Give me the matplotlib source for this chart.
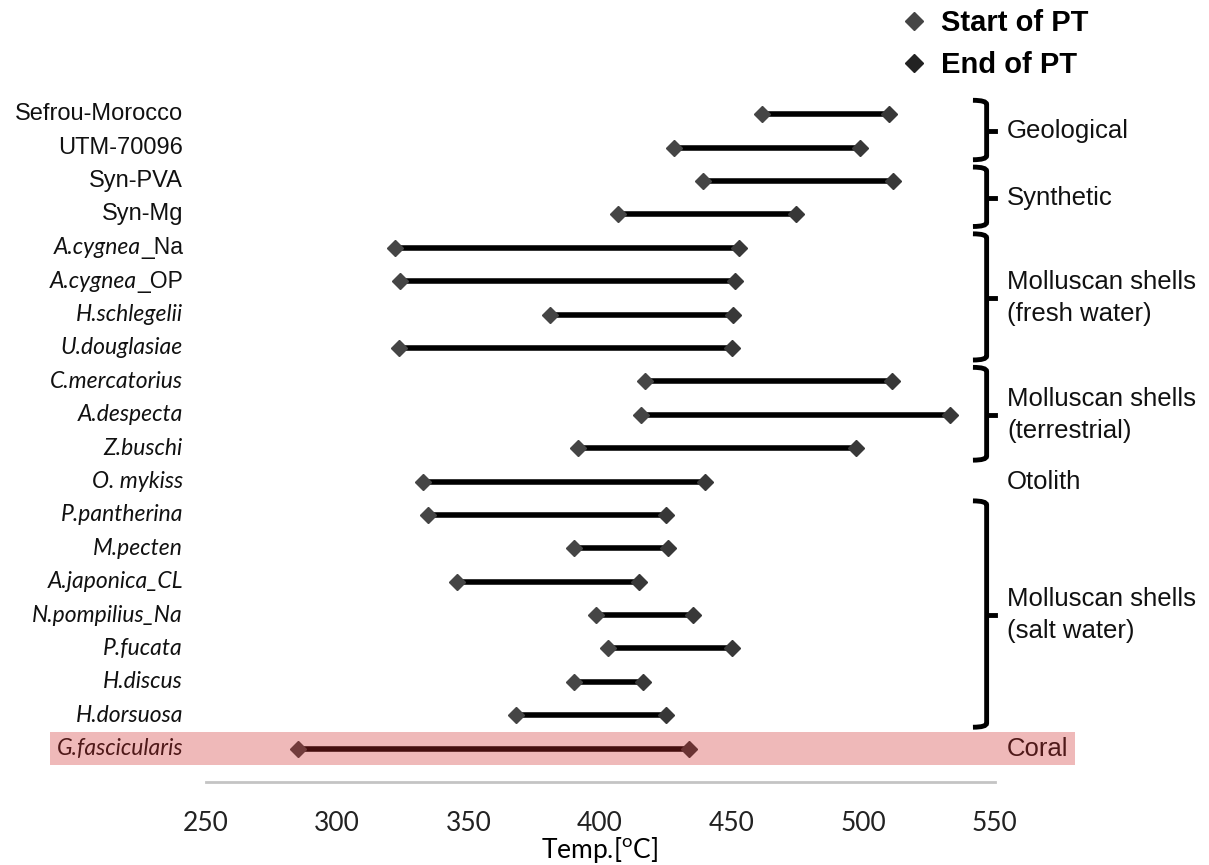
import matplotlib

matplotlib.use("Agg")

import matplotlib.pyplot as plt
from matplotlib.lines import Line2D
from matplotlib.patches import PathPatch, Rectangle
from matplotlib.path import Path

# samples, top to bottom
samples = [
    "Sefrou-Morocco", "UTM-70096", "Syn-PVA", "Syn-Mg",
    "A.cygnea_Na", "A.cygnea_OP", "H.schlegelii", "U.douglasiae",
    "C.mercatorius", "A.despecta", "Z.buschi", "O. mykiss",
    "P.pantherina", "M.pecten", "A.japonica_CL", "N.pompilius_Na",
    "P.fucata", "H.discus", "H.dorsuosa", "G.fascicularis",
]
# phase transition start / end temperature (deg C)
pt_start = [461.5, 428, 439, 407, 322, 324, 381, 323.5, 417, 415.5,
            391.5, 332.5, 334.5, 390, 345.5, 398.5, 403, 390, 368, 285]
pt_end = [510, 499, 511.5, 474.5, 453, 451.5, 450.5, 450, 511, 533,
          497.5, 440, 425, 426, 415, 435.5, 450, 416.5, 425, 434]

# non-italic samples, and parts of names written upright
upright = ["Sefrou-Morocco", "UTM-70096", "Syn-PVA", "Syn-Mg"]
upright_suffix = {"A.cygnea_Na": "_Na", "A.cygnea_OP": "_OP"}

# groups: (label, first row, last row, draw bracket)
groups = [
    ("Geological", 0, 1, True),
    ("Synthetic", 2, 3, True),
    ("Molluscan shells\n(fresh water)", 4, 7, True),
    ("Molluscan shells\n(terrestrial)", 8, 10, True),
    ("Otolith", 11, 11, False),
    ("Molluscan shells\n(salt water)", 12, 18, True),
    ("Coral", 19, 19, False),
]

xticks = [250, 300, 350, 400, 450, 500, 550]

SANS = ["Liberation Sans", "DejaVu Sans"]
ITAL = ["Lato", "DejaVu Sans"]

fig = plt.figure(figsize=(12.09, 8.65), dpi=100)
ax = fig.add_axes([0.170, 0.096, 0.6526, 0.80])

rows = list(range(len(samples)))
ax.hlines(rows, pt_start, pt_end, color="black", lw=4, zorder=2)
ax.plot(pt_start, rows, "D", color="#454545", ms=8.5, ls="none", zorder=3)
ax.plot(pt_end, rows, "D", color="#383838", ms=8.5, ls="none", zorder=3)

ax.set_xlim(250, 550)
ax.set_ylim(20, -0.73)
ax.set_xticks(xticks)
ax.set_xticklabels([str(t) for t in xticks], family=ITAL, fontsize=19, color="#222222")
ax.tick_params(axis="x", length=0, pad=21)
ax.set_yticks([])
for s in ["top", "left", "right"]:
    ax.spines[s].set_visible(False)
ax.spines["bottom"].set_color("#c4c4c4")
ax.spines["bottom"].set_linewidth(2)
ax.set_xlabel("Temp.[$^{\\mathregular{o}}$C]", family=ITAL, fontsize=19, labelpad=-1)

# sample labels
ytr = ax.get_yaxis_transform()
lab_x = -0.0285
for r, name in enumerate(samples):
    if name in upright:
        ax.text(lab_x, r, name, transform=ytr, ha="right", va="center",
                family=SANS, fontsize=17, color="#111111")
    elif name in upright_suffix:
        suf = upright_suffix[name]
        t = ax.text(lab_x, r, suf, transform=ytr, ha="right", va="center",
                    family=SANS, fontsize=16.5, color="#111111")
        ax.annotate(name[: -len(suf)], xy=(0, 0.5), xycoords=t, ha="right", va="center",
                    family=ITAL, style="italic", fontsize=16.5, color="#111111")
    else:
        ax.text(lab_x, r, name, transform=ytr, ha="right", va="center",
                family=ITAL, style="italic", fontsize=16.5, color="#111111")

# group brackets and labels
for label, r0, r1, bracket in groups:
    mid = (r0 + r1) / 2
    if bracket:
        top, bot = r0 - 0.42, r1 + 0.36
        xv, xh, xt = 547.0, 541.8, 550.3
        c = 0.12
        verts = [(xh, top), (xv, top), (xv, top + c), (xv, bot - c), (xv, bot), (xh, bot)]
        codes = [Path.MOVETO, Path.CURVE3, Path.CURVE3, Path.LINETO, Path.CURVE3, Path.CURVE3]
        ax.add_patch(PathPatch(Path(verts, codes), fill=False, lw=3.5, color="black",
                               clip_on=False, capstyle="butt"))
        ax.plot([xv, xt], [mid, mid], color="black", lw=3.5, clip_on=False)
    ax.text(554.8, mid, label, ha="left", va="center", family=SANS, fontsize=18.5,
            linespacing=1.4, color="#111111", clip_on=False)

# legend
handles = [
    Line2D([], [], marker="D", color="#454545", ls="none", ms=9),
    Line2D([], [], marker="D", color="#222222", ls="none", ms=9),
]
fig.legend(handles, ["Start of PT", "End of PT"], loc="upper left",
           bbox_to_anchor=(0.722, 1.02), frameon=False, handlelength=1.0,
           handletextpad=0.45, labelspacing=0.48,
           prop={"family": SANS, "weight": "bold", "size": 21})

# highlight band over the coral row
fig.add_artist(Rectangle((0.0414, 0.1156), 0.8478, 0.0382, transform=fig.transFigure,
                         color="#cf2b2b", alpha=0.33, lw=0, zorder=10))

fig.savefig("out.png", dpi=100)
